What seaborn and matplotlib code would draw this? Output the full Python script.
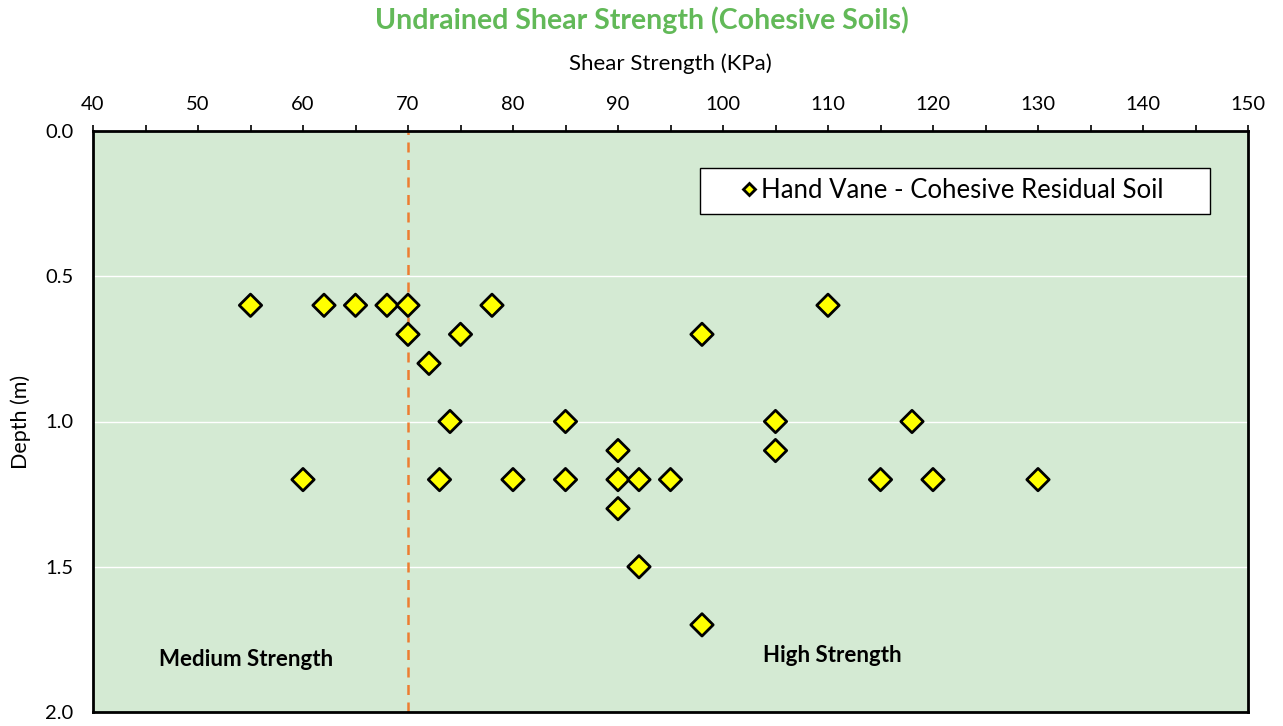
import matplotlib
matplotlib.use("Agg")
import matplotlib.pyplot as plt
import seaborn as sns
import pandas as pd
from matplotlib.ticker import MultipleLocator, FormatStrFormatter
from matplotlib.patches import Rectangle

# hand vane readings
shear_kpa = [55, 62, 65, 68, 70, 78, 110,
             70, 75, 98,
             72,
             74, 85, 105, 118,
             90, 105,
             60, 73, 80, 85, 90, 92, 95, 115, 120, 130,
             90,
             92,
             98]
depth_m = [0.6, 0.6, 0.6, 0.6, 0.6, 0.6, 0.6,
           0.7, 0.7, 0.7,
           0.8,
           1.0, 1.0, 1.0, 1.0,
           1.1, 1.1,
           1.2, 1.2, 1.2, 1.2, 1.2, 1.2, 1.2, 1.2, 1.2, 1.2,
           1.3,
           1.5,
           1.7]
series_name = "Hand Vane - Cohesive Residual Soil"
boundary_kpa = 70

df = pd.DataFrame({"Shear": shear_kpa, "Depth": depth_m, "Series": series_name})

sns.set_style("white")
plt.rcParams['font.family'] = ['Lato', 'DejaVu Sans']
plt.rcParams['text.color'] = 'black'
plt.rcParams['axes.labelcolor'] = 'black'
plt.rcParams['xtick.color'] = 'black'
plt.rcParams['ytick.color'] = 'black'

fig = plt.figure(figsize=(12.83, 7.26), dpi=100)
ax = fig.add_axes([93 / 1283, 14 / 726, (1248 - 93) / 1283, (712 - 131) / 726])
ax.set_facecolor('#d4ead3')

ax.axvline(boundary_kpa, color='#ed7d31', linestyle=(0, (4, 3)), linewidth=1.8, zorder=2)

sns.scatterplot(data=df, x="Shear", y="Depth", hue="Series", palette=["#ffff00"],
                marker="D", s=130, edgecolor="black", linewidth=2, ax=ax, zorder=3)

ax.set_xlim(40, 150)
ax.set_ylim(2.0, 0.0)
ax.xaxis.tick_top()
ax.xaxis.set_label_position('top')
ax.xaxis.set_major_locator(MultipleLocator(10))
ax.xaxis.set_minor_locator(MultipleLocator(5))
ax.yaxis.set_major_locator(MultipleLocator(0.5))
ax.yaxis.set_major_formatter(FormatStrFormatter('%.1f'))
ax.tick_params(axis='x', which='major', direction='out', length=4, width=1.2, labelsize=14.5, pad=9)
ax.tick_params(axis='x', which='minor', direction='out', length=4, width=1.2)
ax.tick_params(axis='y', which='major', direction='out', length=5, width=1.2, labelsize=14.5, pad=9)
ax.grid(axis='y', color='white', linewidth=1)
ax.set_axisbelow(True)

for side in ['top', 'left', 'right', 'bottom']:
    ax.spines[side].set_visible(True)
    ax.spines[side].set_color('black')
    ax.spines[side].set_linewidth(2)

ax.set_xlabel("Shear Strength (KPa)", fontsize=16, labelpad=19)
ax.set_ylabel("Depth (m)", fontsize=15.5, labelpad=10)
fig.text(0.5, 0.972, "Undrained Shear Strength (Cohesive Soils)", ha='center', va='center',
         fontsize=20.5, fontweight='bold', color='#62b958')

ax.text(54.6, 1.82, "Medium Strength", fontsize=16, fontweight='bold', ha='center', va='center')
ax.text(110.4, 1.805, "High Strength", fontsize=16, fontweight='bold', ha='center', va='center')

# legend frame drawn as its own box
ax.add_patch(Rectangle((0.5255, 0.857), 0.967 - 0.5255, 0.9363 - 0.857, transform=ax.transAxes,
                       facecolor='white', edgecolor='black', linewidth=1, zorder=4))
leg = ax.legend(loc='center left', bbox_to_anchor=(0.5615, 0.897), fontsize=18.5, frameon=False,
                handletextpad=0.15, handlelength=0.6, borderpad=0, borderaxespad=0,
                markerscale=0.5)
leg.set_zorder(5)

fig.savefig("out.png", dpi=100)
